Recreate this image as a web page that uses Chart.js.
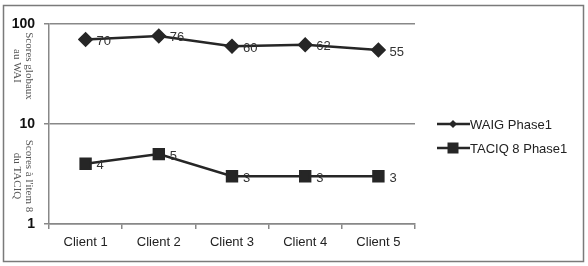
<!DOCTYPE html>
<html>
<head>
<meta charset="utf-8">
<script src="https://cdn.jsdelivr.net/npm/chart.js@4/dist/chart.umd.min.js"></script>
<style>
  html, body { margin: 0; padding: 0; background: #fff; }
  #wrap { width: 588px; height: 266px; }
</style>
</head>
<body>
<div id="wrap"><canvas id="graf" width="588" height="266"></canvas></div>
<script>
const clients = ['Client 1', 'Client 2', 'Client 3', 'Client 4', 'Client 5'];
const waig = [70, 76, 60, 62, 55];
const taciq = [4, 5, 3, 3, 3];
const yTicks = [1, 10, 100];

const ink = '#262626';

// cadre, titres d'axe, légende et étiquettes
const extras = {
  id: 'extras',
  afterDraw(chart) {
    const ctx = chart.ctx;
    ctx.save();
    ctx.strokeStyle = '#7a7a7a';
    ctx.lineWidth = 1.5;
    ctx.strokeRect(3.5, 5.5, 580, 256);

    // étiquettes des points
    ctx.fillStyle = '#333';
    ctx.font = '13px "Liberation Sans", Arial, sans-serif';
    ctx.textAlign = 'left';
    ctx.textBaseline = 'middle';
    chart.data.datasets.forEach((ds, i) => {
      chart.getDatasetMeta(i).data.forEach((pt, j) => {
        ctx.fillText(String(ds.data[j]), pt.x + 11, pt.y + 2);
      });
    });

    // titres verticaux
    ctx.fillStyle = '#555';
    ctx.font = '11px "Liberation Serif", "Times New Roman", serif';
    ctx.textAlign = 'center';
    const vtext = (lines, cx, cy) => {
      ctx.save();
      ctx.translate(cx, cy);
      ctx.rotate(Math.PI / 2);
      lines.forEach((t, k) => ctx.fillText(t, 0, k * 12));
      ctx.restore();
    };
    vtext(['Scores globaux', 'au WAI'], 29, 66);
    vtext(["Scores à l'item 8", 'du TACIQ'], 29, 176);

    // légende
    ctx.font = '13px "Liberation Sans", Arial, sans-serif';
    ctx.textAlign = 'left';
    chart.data.datasets.forEach((ds, i) => {
      const y = 124 + i * 24;
      ctx.strokeStyle = ink;
      ctx.lineWidth = 2.5;
      ctx.beginPath();
      ctx.moveTo(437, y);
      ctx.lineTo(470, y);
      ctx.stroke();
      ctx.fillStyle = ink;
      ctx.beginPath();
      if (ds.pointStyle === 'rectRot') {
        ctx.moveTo(453, y - 4); ctx.lineTo(457, y); ctx.lineTo(453, y + 4); ctx.lineTo(449, y);
      } else {
        ctx.rect(447.5, y - 5.5, 11, 11);
      }
      ctx.fill();
      ctx.fillStyle = '#222';
      ctx.fillText(ds.label, 470, y + 1);
    });
    ctx.restore();
  }
};

new Chart(document.getElementById('graf'), {
  type: 'line',
  data: {
    labels: clients,
    datasets: [
      {
        label: 'WAIG Phase1',
        data: waig,
        borderColor: ink,
        backgroundColor: ink,
        borderWidth: 2.5,
        pointStyle: 'rectRot',
        pointRadius: 6,
        tension: 0
      },
      {
        label: 'TACIQ 8 Phase1',
        data: taciq,
        borderColor: ink,
        backgroundColor: ink,
        borderWidth: 2.5,
        pointStyle: 'rect',
        pointRadius: 7,
        tension: 0
      }
    ]
  },
  options: {
    responsive: false,
    animation: false,
    layout: { padding: { top: 24, right: 173, left: 0, bottom: 0 } },
    plugins: { legend: { display: false }, tooltip: { enabled: false } },
    scales: {
      x: {
        offset: true,
        grid: { offset: true, drawOnChartArea: false, tickLength: 5, color: '#888', lineWidth: 1.5 },
        border: { color: '#888', width: 1.5 },
        ticks: { color: '#222', font: { family: '"Liberation Sans", Arial, sans-serif', size: 13 }, padding: 6 },
        afterFit(s) { s.height = 42; }
      },
      y: {
        type: 'logarithmic',
        min: 1,
        max: 100,
        afterBuildTicks(s) { s.ticks = yTicks.map(v => ({ value: v })); },
        grid: { color: '#888', lineWidth: 1.5, tickLength: 5 },
        border: { color: '#888', width: 1.5 },
        ticks: {
          color: '#111',
          font: { family: '"Liberation Sans", Arial, sans-serif', size: 14, weight: 'bold' },
          padding: 9,
          callback: v => String(v)
        },
        afterFit(s) { s.width = 49; }
      }
    }
  },
  plugins: [extras]
});
</script>
</body>
</html>
